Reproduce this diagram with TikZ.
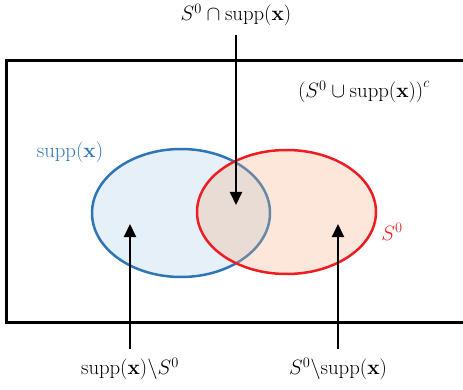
\documentclass[tikz,border=0pt]{standalone}
\usetikzlibrary{arrows.meta}
\definecolor{bstroke}{HTML}{2E75B6}
\definecolor{bfill}{HTML}{E5F0F8}
\definecolor{rstroke}{HTML}{EE1D23}
\definecolor{rfill}{HTML}{F4B183}
\begin{document}
\begin{tikzpicture}[x=1pt,y=-1pt,
  lbl/.style={font=\fontsize{21}{25}\selectfont, inner sep=1pt},
  arr/.style={line width=2pt, -{Triangle[width=12pt,length=13pt]}}]
\clip (0,0) rectangle (463,390);
\draw[line width=3pt] (6,61) rectangle (480,322);
% blue set supp(x)
\fill[bfill] (181,213) ellipse [x radius=89pt, y radius=64pt];
\draw[bstroke, line width=2.5pt] (181,213) ellipse [x radius=89pt, y radius=64pt];
% red set S^0
\fill[rfill, fill opacity=0.3] (286.5,212) ellipse [x radius=89.5pt, y radius=62pt];
\draw[rstroke, line width=2.5pt] (286.5,212) ellipse [x radius=89.5pt, y radius=62pt];
% labels
\node[lbl] (top) at (236,15) {$S^0\cap\mathrm{supp}(\mathbf{x})$};
\node[lbl] (comp) at (364,92) {$\bigl(S^0\cup\mathrm{supp}(\mathbf{x})\bigr)^c$};
\node[lbl, text=bstroke] (blab) at (70,152) {$\mathrm{supp}(\mathbf{x})$};
\node[lbl, text=rstroke] (rlab) at (392,232) {$S^0$};
\node[lbl] (bl) at (130,369) {$\mathrm{supp}(\mathbf{x})\backslash S^0$};
\node[lbl] (br) at (338,369) {$S^0\backslash\mathrm{supp}(\mathbf{x})$};
% arrow targets
\coordinate (ti) at (236,205);
\coordinate (li) at (130,224);
\coordinate (ri) at (338,224);
\draw[arr] (top.south) ++(0,8) -- (ti);
\draw[arr] (bl.north) ++(0,-8) -- (li);
\draw[arr] (br.north) ++(0,-8) -- (ri);
\end{tikzpicture}
\end{document}
